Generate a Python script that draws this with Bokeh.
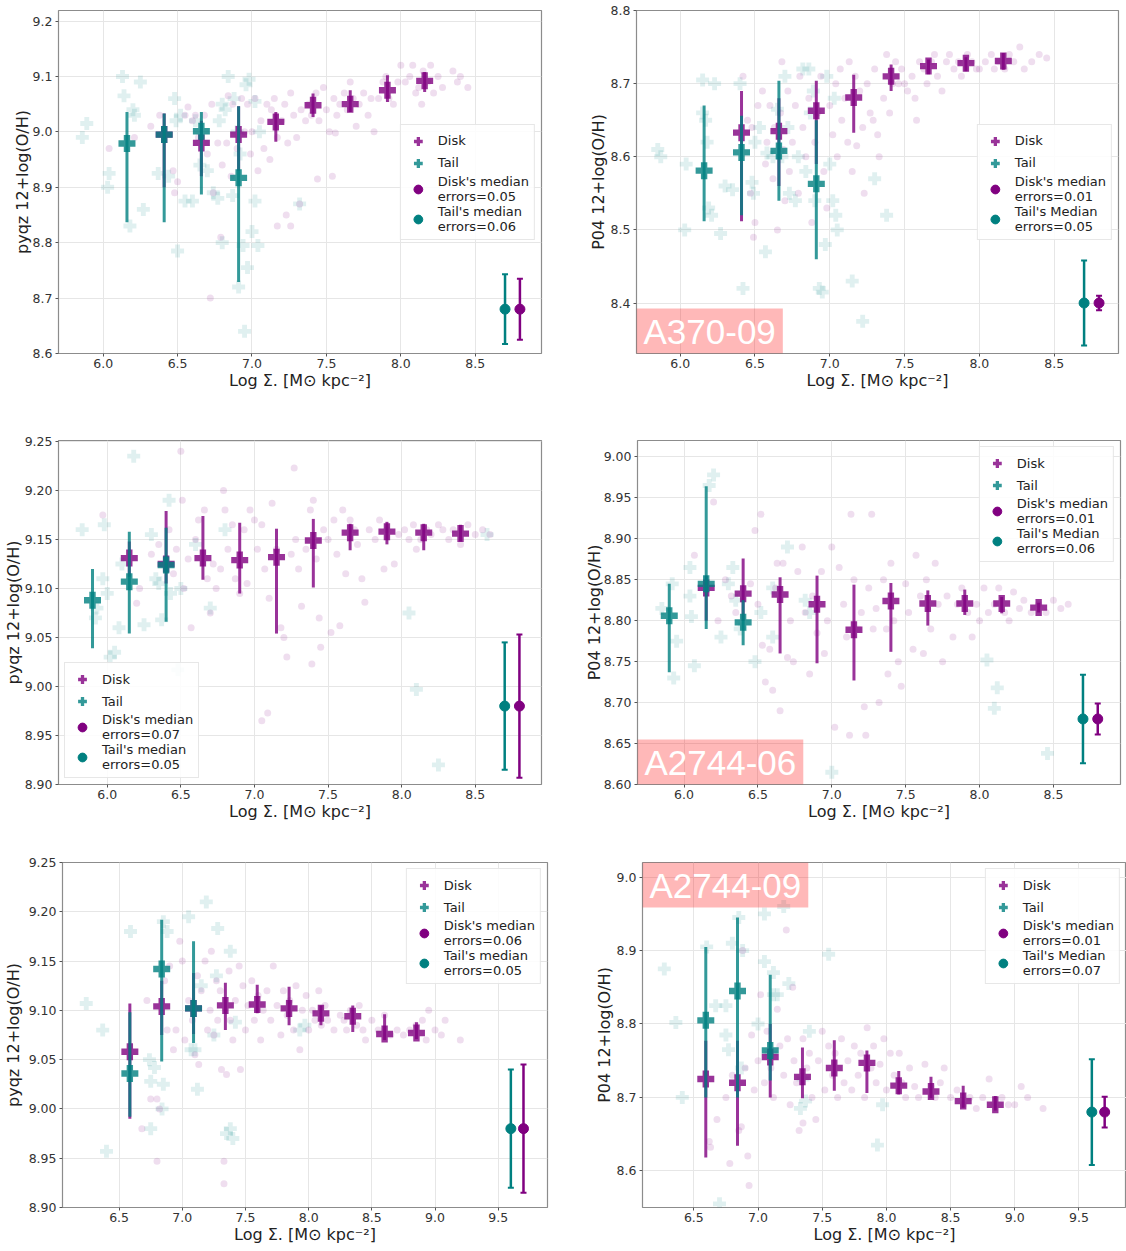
from bokeh.plotting import figure
from bokeh.layouts import column, row
from bokeh.models import Range1d, FixedTicker, Legend, LegendItem, Label, NumeralTickFormatter
from bokeh.embed import file_html
from bokeh.resources import INLINE

FONT = "DejaVu Sans"
LABEL_FONT = "Liberation Sans"
DISK = "#800080"
TAIL = "#008080"

XTICKS_A = [6.0, 6.5, 7.0, 7.5, 8.0, 8.5]
XTICKS_B = [6.5, 7.0, 7.5, 8.0, 8.5, 9.0, 9.5]
YTICKS_1 = [8.6, 8.7, 8.8, 8.9, 9.0, 9.1, 9.2]
YTICKS_2 = [8.4, 8.5, 8.6, 8.7, 8.8]
YTICKS_3 = [8.90, 8.95, 9.00, 9.05, 9.10, 9.15, 9.20, 9.25]
YTICKS_4 = [8.60, 8.65, 8.70, 8.75, 8.80, 8.85, 8.90, 8.95, 9.00]
YTICKS_5 = [8.90, 8.95, 9.00, 9.05, 9.10, 9.15, 9.20, 9.25]
YTICKS_6 = [8.6, 8.7, 8.8, 8.9, 9.0]

XLABEL = "Log Σ. [M⊙ kpc⁻²]"
YLABEL_L = "pyqz 12+log(O/H)"
YLABEL_R = "P04 12+log(O/H)"

# ---------------- Panel 1 (pyqz, A370-09) ----------------
p1_disk_x = [6.41, 6.66, 6.91, 7.16, 7.41, 7.66, 7.91, 8.16]
p1_disk_y = [8.995, 8.980, 8.995, 9.018, 9.048, 9.050, 9.075, 9.092]
p1_disk_lo = [8.900, 8.920, 8.930, 8.982, 9.027, 9.036, 9.054, 9.072]
p1_disk_hi = [9.033, 9.020, 9.046, 9.036, 9.069, 9.075, 9.102, 9.108]
p1_tail_x = [6.16, 6.41, 6.66, 6.91]
p1_tail_y = [8.979, 8.995, 9.001, 8.917]
p1_tail_lo = [8.837, 8.837, 8.887, 8.729]
p1_tail_hi = [9.036, 9.033, 9.036, 9.046]
p1_err_x = [8.70, 8.80]          # tail, disk
p1_err_y = [8.68, 8.68]
p1_err = [0.063, 0.055]
p1_disk_pts = [(6.04, 8.97), (6.21, 8.99), (6.32, 9.01), (6.38, 9.03), (6.47, 8.93), (6.48, 8.89), (6.50, 8.91),
               (6.55, 9.03), (6.57, 9.045), (6.60, 9.02), (6.62, 9.03), (6.64, 8.99), (6.68, 9.03), (6.70, 8.96),
               (6.72, 8.70), (6.73, 9.05), (6.74, 8.89), (6.77, 8.98), (6.79, 8.81), (6.80, 8.94), (6.83, 8.98),
               (6.84, 9.065), (6.86, 8.92), (6.87, 9.05), (6.90, 8.97), (6.93, 9.06), (6.95, 9.00), (6.97, 9.05),
               (6.99, 8.96), (7.00, 9.00), (7.02, 9.06), (7.04, 8.93), (7.06, 9.02), (7.08, 8.97), (7.10, 9.05),
               (7.12, 8.95), (7.13, 9.04), (7.15, 9.06), (7.17, 8.99), (7.17, 8.83), (7.20, 9.02), (7.22, 9.05),
               (7.23, 8.85), (7.24, 8.98), (7.26, 9.07), (7.26, 8.83), (7.28, 9.03), (7.30, 8.99), (7.32, 8.87),
               (7.33, 9.04), (7.36, 9.02), (7.38, 9.05), (7.40, 9.03), (7.43, 9.07), (7.44, 8.915), (7.45, 9.02),
               (7.48, 9.08), (7.50, 9.04), (7.52, 9.00), (7.54, 8.92), (7.55, 9.06), (7.56, 8.998), (7.57, 9.03),
               (7.59, 9.05), (7.62, 9.07), (7.64, 9.04), (7.66, 9.09), (7.68, 9.06), (7.70, 9.01), (7.72, 9.05),
               (7.75, 9.07), (7.78, 9.03), (7.80, 9.06), (7.82, 9.00), (7.85, 9.06), (7.88, 9.09), (7.90, 9.10),
               (7.92, 9.06), (7.95, 9.05), (7.98, 9.09), (8.00, 9.12), (8.03, 9.09), (8.06, 9.10), (8.08, 9.12),
               (8.10, 9.07), (8.12, 9.08), (8.14, 9.05), (8.15, 9.11), (8.18, 9.09), (8.20, 9.12), (8.22, 9.07),
               (8.25, 9.10), (8.28, 9.08), (8.35, 9.11), (8.38, 9.09), (8.40, 9.10), (8.45, 9.08)]
p1_tail_pts = [(5.86, 8.99), (5.89, 9.015), (6.03, 8.90), (6.04, 8.925), (6.13, 9.10), (6.14, 9.065), (6.18, 8.83),
               (6.20, 9.04), (6.21, 9.03), (6.25, 9.09), (6.27, 8.86), (6.37, 8.925), (6.44, 8.92), (6.48, 9.06),
               (6.50, 8.785), (6.49, 9.02), (6.52, 9.03), (6.55, 8.875), (6.60, 8.875), (6.62, 9.02), (6.65, 8.94),
               (6.70, 8.93), (6.74, 8.89), (6.77, 8.88), (6.80, 8.80), (6.78, 9.02), (6.80, 9.05), (6.82, 9.04),
               (6.84, 9.10), (6.87, 8.885), (6.88, 9.06), (6.90, 9.00), (6.91, 8.72), (6.92, 8.96), (6.94, 8.795),
               (6.95, 8.64), (6.96, 9.085), (6.97, 8.755), (6.98, 9.095), (7.00, 8.82), (7.02, 9.055), (7.02, 8.875),
               (7.04, 8.795), (7.05, 9.00), (7.32, 8.87)]

# ---------------- Panel 2 (P04, A370-09) ----------------
p2_disk_x = [6.41, 6.66, 6.91, 7.16, 7.41, 7.66, 7.91, 8.16]
p2_disk_y = [8.633, 8.635, 8.663, 8.681, 8.710, 8.724, 8.728, 8.731]
p2_disk_lo = [8.512, 8.560, 8.590, 8.633, 8.690, 8.713, 8.717, 8.719]
p2_disk_hi = [8.690, 8.680, 8.704, 8.712, 8.726, 8.733, 8.736, 8.742]
p2_tail_x = [6.16, 6.41, 6.66, 6.91]
p2_tail_y = [8.581, 8.606, 8.608, 8.563]
p2_tail_lo = [8.512, 8.520, 8.540, 8.460]
p2_tail_hi = [8.670, 8.656, 8.704, 8.650]
p2_err_x = [8.70, 8.80]
p2_err_y = [8.40, 8.40]
p2_err = [0.058, 0.010]
p2_disk_pts = [(6.42, 8.71), (6.45, 8.65), (6.47, 8.55), (6.48, 8.64), (6.49, 8.49), (6.50, 8.51), (6.52, 8.67),
               (6.55, 8.69), (6.57, 8.59), (6.58, 8.62), (6.60, 8.67), (6.62, 8.57), (6.63, 8.64), (6.65, 8.50),
               (6.67, 8.66), (6.68, 8.73), (6.69, 8.61), (6.70, 8.54), (6.72, 8.69), (6.73, 8.58), (6.75, 8.62),
               (6.77, 8.67), (6.79, 8.55), (6.80, 8.71), (6.82, 8.64), (6.84, 8.60), (6.86, 8.68), (6.88, 8.51),
               (6.90, 8.62), (6.92, 8.66), (6.94, 8.71), (6.96, 8.58), (6.98, 8.53), (7.00, 8.67), (7.02, 8.63),
               (7.04, 8.70), (7.05, 8.60), (7.07, 8.72), (7.08, 8.65), (7.10, 8.68), (7.12, 8.62), (7.13, 8.73),
               (7.15, 8.58), (7.17, 8.71), (7.18, 8.615), (7.20, 8.69), (7.22, 8.64), (7.23, 8.55), (7.25, 8.70),
               (7.27, 8.66), (7.29, 8.65), (7.30, 8.72), (7.32, 8.63), (7.33, 8.60), (7.36, 8.68), (7.38, 8.74),
               (7.40, 8.66), (7.42, 8.70), (7.44, 8.73), (7.46, 8.70), (7.48, 8.72), (7.50, 8.70), (7.52, 8.69),
               (7.55, 8.71), (7.57, 8.68), (7.58, 8.65), (7.60, 8.73), (7.63, 8.72), (7.65, 8.70), (7.68, 8.73),
               (7.70, 8.74), (7.72, 8.71), (7.75, 8.69), (7.78, 8.73), (7.80, 8.74), (7.83, 8.72), (7.86, 8.73),
               (7.88, 8.71), (7.92, 8.74), (7.95, 8.73), (7.98, 8.72), (8.00, 8.72), (8.04, 8.73), (8.08, 8.74),
               (8.10, 8.72), (8.13, 8.73), (8.17, 8.72), (8.20, 8.74), (8.23, 8.73), (8.27, 8.75), (8.30, 8.72),
               (8.35, 8.73), (8.40, 8.74), (8.45, 8.735)]
p2_tail_pts = [(5.85, 8.61), (5.87, 8.60), (6.03, 8.50), (6.04, 8.59), (6.15, 8.705), (6.15, 8.66), (6.17, 8.65),
               (6.18, 8.62), (6.19, 8.53), (6.21, 8.52), (6.23, 8.70), (6.27, 8.495), (6.30, 8.56), (6.35, 8.555),
               (6.40, 8.70), (6.42, 8.42), (6.48, 8.565), (6.49, 8.55), (6.50, 8.62), (6.53, 8.64), (6.57, 8.47),
               (6.58, 8.605), (6.62, 8.60), (6.65, 8.665), (6.68, 8.60), (6.70, 8.71), (6.72, 8.64), (6.73, 8.55),
               (6.77, 8.54), (6.79, 8.60), (6.82, 8.72), (6.84, 8.58), (6.86, 8.72), (6.87, 8.66), (6.89, 8.69),
               (6.90, 8.54), (6.93, 8.42), (6.95, 8.415), (6.97, 8.48), (6.98, 8.71), (7.00, 8.59), (7.02, 8.54),
               (7.04, 8.52), (7.05, 8.50), (7.03, 8.68), (7.15, 8.43), (7.22, 8.375), (7.30, 8.57), (7.38, 8.52)]

# ---------------- Panel 3 (pyqz, A2744-06) ----------------
p3_disk_x = [6.15, 6.40, 6.65, 6.90, 7.15, 7.40, 7.65, 7.90, 8.15, 8.40]
p3_disk_y = [9.131, 9.125, 9.131, 9.129, 9.132, 9.149, 9.157, 9.158, 9.157, 9.156]
p3_disk_lo = [9.112, 9.105, 9.109, 9.095, 9.054, 9.101, 9.139, 9.145, 9.139, 9.148]
p3_disk_hi = [9.148, 9.179, 9.174, 9.167, 9.161, 9.171, 9.166, 9.168, 9.166, 9.165]
p3_tail_x = [5.90, 6.15, 6.40]
p3_tail_y = [9.088, 9.107, 9.124]
p3_tail_lo = [9.039, 9.054, 9.066]
p3_tail_hi = [9.120, 9.158, 9.162]
p3_err_x = [8.70, 8.80]
p3_err_y = [8.98, 8.98]
p3_err = [0.065, 0.073]
p3_disk_pts = [(5.97, 9.175), (6.20, 9.085), (6.22, 9.10), (6.30, 9.135), (6.35, 9.145), (6.42, 9.16), (6.45, 9.115),
               (6.47, 9.14), (6.50, 9.24), (6.51, 9.19), (6.52, 9.10), (6.55, 9.13), (6.57, 9.06), (6.60, 9.15),
               (6.62, 9.17), (6.66, 9.18), (6.68, 9.11), (6.70, 9.075), (6.72, 9.125), (6.74, 9.10), (6.77, 9.12),
               (6.79, 9.20), (6.80, 9.18), (6.82, 9.14), (6.85, 9.165), (6.87, 9.11), (6.90, 9.095), (6.93, 9.16),
               (6.95, 9.105), (6.97, 9.18), (7.00, 9.17), (7.02, 9.14), (7.05, 9.165), (7.07, 9.12), (7.10, 9.09),
               (7.12, 9.187), (7.15, 9.14), (7.18, 9.06), (7.20, 9.05), (7.22, 9.03), (7.05, 8.965), (7.09, 8.973),
               (7.25, 9.135), (7.27, 9.223), (7.28, 9.15), (7.30, 9.12), (7.32, 9.082), (7.35, 9.14), (7.38, 9.18),
               (7.39, 9.023), (7.40, 9.19), (7.42, 9.13), (7.44, 9.07), (7.45, 9.04), (7.47, 9.16), (7.50, 9.15),
               (7.52, 9.055), (7.54, 9.17), (7.56, 9.135), (7.58, 9.062), (7.60, 9.18), (7.62, 9.115), (7.65, 9.17),
               (7.68, 9.16), (7.70, 9.145), (7.73, 9.11), (7.75, 9.086), (7.78, 9.16), (7.82, 9.15), (7.85, 9.17),
               (7.88, 9.12), (7.90, 9.16), (7.95, 9.125), (7.98, 9.155), (8.02, 9.16), (8.05, 9.15), (8.08, 9.165),
               (8.10, 9.14), (8.13, 9.15), (8.17, 9.16), (8.20, 9.155), (8.25, 9.165), (8.28, 9.16), (8.32, 9.15),
               (8.35, 9.16), (8.40, 9.145), (8.45, 9.165), (8.50, 9.155), (8.55, 9.16), (8.60, 9.155)]
p3_tail_pts = [(5.83, 9.16), (5.92, 9.07), (5.93, 9.08), (5.97, 9.11), (5.98, 9.165), (6.00, 9.095), (6.02, 9.03),
               (6.05, 9.035), (6.08, 9.06), (6.10, 9.125), (6.18, 9.235), (6.25, 9.063), (6.30, 9.155), (6.33, 9.11),
               (6.35, 9.105), (6.37, 9.068), (6.42, 9.19), (6.43, 9.095), (6.48, 9.017), (6.50, 9.10), (6.60, 9.145),
               (6.70, 9.08), (6.80, 9.16), (8.05, 9.075), (8.10, 8.997), (8.25, 8.92), (8.58, 9.155)]

# ---------------- Panel 4 (P04, A2744-06) ----------------
p4_disk_x = [6.15, 6.40, 6.65, 6.90, 7.15, 7.40, 7.65, 7.90, 8.15, 8.40]
p4_disk_y = [8.840, 8.833, 8.832, 8.820, 8.789, 8.824, 8.821, 8.821, 8.821, 8.816]
p4_disk_lo = [8.800, 8.800, 8.760, 8.748, 8.727, 8.762, 8.794, 8.807, 8.809, 8.810]
p4_disk_hi = [8.855, 8.876, 8.853, 8.855, 8.844, 8.846, 8.837, 8.838, 8.829, 8.822]
p4_tail_x = [5.90, 6.15, 6.40]
p4_tail_y = [8.806, 8.845, 8.798]
p4_tail_lo = [8.737, 8.790, 8.770]
p4_tail_hi = [8.845, 8.964, 8.825]
p4_err_x = [8.70, 8.80]
p4_err_y = [8.68, 8.68]
p4_err = [0.054, 0.019]
p4_disk_pts = [(6.07, 8.88), (6.20, 8.945), (6.23, 8.80), (6.28, 8.85), (6.32, 8.83), (6.35, 8.81), (6.45, 8.845),
               (6.48, 8.91), (6.50, 8.82), (6.52, 8.93), (6.53, 8.77), (6.55, 8.725), (6.58, 8.765), (6.60, 8.715),
               (6.62, 8.84), (6.63, 8.87), (6.65, 8.69), (6.67, 8.87), (6.70, 8.755), (6.72, 8.80), (6.74, 8.75),
               (6.77, 8.86), (6.80, 8.89), (6.82, 8.81), (6.85, 8.735), (6.87, 8.83), (6.90, 8.785), (6.93, 8.86),
               (6.95, 8.76), (6.97, 8.80), (7.00, 8.89), (7.02, 8.67), (7.05, 8.865), (7.08, 8.82), (7.10, 8.78),
               (7.12, 8.66), (7.13, 8.93), (7.15, 8.85), (7.18, 8.79), (7.20, 8.81), (7.22, 8.695), (7.23, 8.66),
               (7.25, 8.84), (7.27, 8.93), (7.28, 8.79), (7.30, 8.815), (7.32, 8.70), (7.35, 8.85), (7.37, 8.79),
               (7.38, 8.735), (7.40, 8.87), (7.42, 8.80), (7.45, 8.75), (7.47, 8.72), (7.50, 8.845), (7.52, 8.81),
               (7.55, 8.765), (7.57, 8.88), (7.60, 8.83), (7.62, 8.76), (7.64, 8.85), (7.67, 8.79), (7.70, 8.87),
               (7.72, 8.82), (7.75, 8.75), (7.78, 8.83), (7.82, 8.78), (7.85, 8.82), (7.88, 8.84), (7.92, 8.81),
               (7.95, 8.78), (7.98, 8.82), (8.00, 8.80), (8.03, 8.84), (8.06, 8.81), (8.10, 8.82), (8.13, 8.84),
               (8.17, 8.81), (8.20, 8.80), (8.23, 8.835), (8.27, 8.815), (8.30, 8.825), (8.35, 8.81), (8.40, 8.82),
               (8.45, 8.81), (8.50, 8.825), (8.55, 8.815), (8.60, 8.82)]
p4_tail_pts = [(5.85, 8.815), (5.92, 8.845), (5.95, 8.775), (5.93, 8.73), (6.04, 8.865), (6.05, 8.805), (6.04, 8.83),
               (6.07, 8.745), (6.17, 8.965), (6.20, 8.978), (6.25, 8.78), (6.30, 8.845), (6.33, 8.865), (6.35, 8.825),
               (6.38, 8.79), (6.48, 8.75), (6.52, 8.81), (6.60, 8.78), (6.60, 8.84), (6.70, 8.89), (6.82, 8.825),
               (6.85, 8.81), (7.00, 8.615), (8.05, 8.752), (8.12, 8.718), (8.10, 8.693), (8.46, 8.638)]

# ---------------- Panel 5 (pyqz, A2744-09) ----------------
p5_disk_x = [6.585, 6.837, 7.089, 7.341, 7.593, 7.845, 8.097, 8.349, 8.601, 8.853]
p5_disk_y = [9.058, 9.104, 9.102, 9.105, 9.106, 9.102, 9.097, 9.094, 9.076, 9.077]
p5_disk_lo = [8.990, 9.075, 9.076, 9.080, 9.097, 9.085, 9.085, 9.078, 9.070, 9.071]
p5_disk_hi = [9.107, 9.130, 9.138, 9.128, 9.126, 9.124, 9.105, 9.105, 9.096, 9.088]
p5_tail_x = [6.585, 6.837, 7.089]
p5_tail_y = [9.036, 9.142, 9.102]
p5_tail_lo = [8.992, 9.048, 9.067]
p5_tail_hi = [9.098, 9.192, 9.170]
p5_err_x = [9.60, 9.70]
p5_err_y = [8.98, 8.98]
p5_err = [0.060, 0.065]
p5_disk_pts = [(6.68, 8.98), (6.72, 9.11), (6.75, 9.01), (6.80, 8.947), (6.80, 9.01), (6.82, 9.00), (6.86, 9.13),
               (6.88, 9.08), (6.90, 9.145), (6.93, 9.06), (6.95, 9.08), (6.98, 9.17), (7.00, 9.15), (7.02, 9.07),
               (7.05, 9.11), (7.08, 9.09), (7.10, 9.055), (7.12, 9.135), (7.13, 9.045), (7.15, 9.12), (7.18, 9.15),
               (7.20, 9.08), (7.22, 9.10), (7.23, 9.16), (7.25, 9.075), (7.27, 9.13), (7.28, 9.09), (7.30, 9.12),
               (7.31, 9.04), (7.33, 8.947), (7.33, 8.924), (7.35, 9.035), (7.37, 9.14), (7.38, 9.09), (7.40, 9.07),
               (7.42, 9.11), (7.45, 9.145), (7.46, 9.04), (7.48, 9.125), (7.50, 9.08), (7.52, 9.105), (7.55, 9.13),
               (7.57, 9.09), (7.60, 9.115), (7.62, 9.07), (7.64, 9.10), (7.67, 9.12), (7.70, 9.09), (7.72, 9.145),
               (7.75, 9.105), (7.78, 9.075), (7.80, 9.12), (7.83, 9.095), (7.85, 9.11), (7.88, 9.08), (7.90, 9.125),
               (7.93, 9.06), (7.95, 9.10), (7.98, 9.115), (8.00, 9.08), (8.03, 9.10), (8.05, 9.09), (8.08, 9.12),
               (8.10, 9.085), (8.13, 9.105), (8.15, 9.09), (8.20, 9.08), (8.25, 9.095), (8.28, 9.09), (8.30, 9.08),
               (8.33, 9.10), (8.38, 9.085), (8.40, 9.105), (8.43, 9.08), (8.45, 9.07), (8.50, 9.09), (8.55, 9.08),
               (8.60, 9.095), (8.65, 9.075), (8.70, 9.08), (8.75, 9.075), (8.80, 9.08), (8.85, 9.085), (8.90, 9.09),
               (8.93, 9.07), (8.95, 9.10), (9.00, 9.08), (9.05, 9.075), (9.08, 9.09), (9.20, 9.07)]
p5_tail_pts = [(6.24, 9.107), (6.37, 9.08), (6.40, 8.957), (6.59, 9.18), (6.74, 9.05), (6.75, 9.028), (6.75, 8.98),
               (6.78, 9.042), (6.84, 9.00), (6.85, 9.025), (6.85, 9.19), (6.88, 9.18), (7.05, 9.195), (7.07, 9.06),
               (7.10, 9.06), (7.12, 9.02), (7.15, 9.125), (7.19, 9.21), (7.25, 9.075), (7.27, 9.135), (7.28, 9.183),
               (7.35, 8.975), (7.38, 8.98), (7.38, 9.16), (7.40, 8.97), (7.42, 9.088), (7.93, 9.08), (7.97, 9.085)]

# ---------------- Panel 6 (P04, A2744-09) ----------------
p6_disk_x = [6.593, 6.840, 7.095, 7.346, 7.594, 7.848, 8.096, 8.347, 8.598, 8.848]
p6_disk_y = [8.725, 8.720, 8.755, 8.728, 8.740, 8.747, 8.716, 8.708, 8.695, 8.690]
p6_disk_lo = [8.618, 8.634, 8.700, 8.699, 8.709, 8.706, 8.704, 8.699, 8.686, 8.682]
p6_disk_hi = [8.777, 8.777, 8.800, 8.768, 8.778, 8.764, 8.736, 8.728, 8.716, 8.702]
p6_tail_x = [6.593, 6.840, 7.095]
p6_tail_y = [8.805, 8.845, 8.764]
p6_tail_lo = [8.700, 8.700, 8.723]
p6_tail_hi = [8.905, 8.945, 8.867]
p6_err_x = [9.60, 9.70]
p6_err_y = [8.68, 8.68]
p6_err = [0.072, 0.021]
p6_disk_pts = [(6.62, 8.64), (6.63, 8.632), (6.68, 8.67), (6.75, 8.70), (6.78, 8.61), (6.80, 8.73), (6.85, 8.655),
               (6.87, 8.66), (6.88, 8.90), (6.90, 8.74), (6.92, 8.62), (6.93, 8.58), (6.95, 8.785), (6.97, 8.71),
               (7.00, 8.75), (7.02, 8.84), (7.05, 8.72), (7.07, 8.79), (7.10, 8.74), (7.12, 8.70), (7.15, 8.82),
               (7.17, 8.77), (7.20, 8.73), (7.22, 8.928), (7.23, 8.78), (7.25, 8.69), (7.27, 8.85), (7.28, 8.75),
               (7.30, 8.72), (7.32, 8.655), (7.35, 8.665), (7.35, 8.78), (7.38, 8.74), (7.40, 8.76), (7.42, 8.70),
               (7.45, 8.67), (7.47, 8.75), (7.50, 8.79), (7.52, 8.71), (7.55, 8.77), (7.58, 8.73), (7.60, 8.76),
               (7.62, 8.70), (7.65, 8.78), (7.67, 8.72), (7.70, 8.75), (7.73, 8.71), (7.75, 8.77), (7.78, 8.73),
               (7.80, 8.76), (7.83, 8.70), (7.85, 8.795), (7.88, 8.74), (7.90, 8.77), (7.92, 8.72), (7.95, 8.745),
               (7.98, 8.78), (8.00, 8.71), (8.03, 8.76), (8.06, 8.73), (8.10, 8.76), (8.12, 8.72), (8.15, 8.70),
               (8.18, 8.74), (8.22, 8.715), (8.25, 8.70), (8.30, 8.745), (8.35, 8.715), (8.38, 8.70), (8.42, 8.72),
               (8.45, 8.74), (8.50, 8.70), (8.55, 8.71), (8.60, 8.69), (8.65, 8.70), (8.70, 8.685), (8.75, 8.70),
               (8.80, 8.725), (8.85, 8.69), (8.90, 8.70), (8.95, 8.69), (9.00, 8.69), (9.05, 8.715), (9.10, 8.70),
               (9.22, 8.685)]
p6_tail_pts = [(6.27, 8.875), (6.36, 8.802), (6.41, 8.70), (6.60, 8.905), (6.67, 8.825), (6.70, 8.555), (6.75, 8.825),
               (6.75, 8.785), (6.77, 8.765), (6.80, 8.91), (6.85, 8.945), (6.87, 8.74), (6.88, 8.90), (7.05, 8.95),
               (7.00, 8.80), (7.05, 8.885), (7.10, 8.76), (7.12, 8.84), (7.12, 8.87), (7.20, 8.96), (7.15, 8.84),
               (7.24, 8.855), (7.35, 8.725), (7.40, 8.79), (7.33, 8.685), (7.37, 8.695), (7.55, 8.895), (7.93, 8.635),
               (7.97, 8.69)]


def make_panel(xr, yr, xticks, yticks, yfmt, ylabel, borders, ystand,
               disk_pts, tail_pts, dx, dy, dlo, dhi, tx, ty, tlo, thi,
               ex, ey, ee, leg_labels, leg_loc, cluster=None, cluster_top=False):
    bl, br, bt, bb = borders
    p = figure(width=563, height=417, x_range=Range1d(*xr), y_range=Range1d(*yr),
               output_backend="svg", toolbar_location=None,
               min_border_left=bl, min_border_right=br, min_border_top=bt, min_border_bottom=bb,
               background_fill_color="white", border_fill_color="white")
    p.xaxis.ticker = FixedTicker(ticks=xticks)
    p.yaxis.ticker = FixedTicker(ticks=yticks)
    p.xaxis.formatter = NumeralTickFormatter(format="0.0")
    p.yaxis.formatter = NumeralTickFormatter(format=yfmt)
    p.xaxis.axis_label = XLABEL
    p.yaxis.axis_label = ylabel
    for ax in (p.xaxis[0], p.yaxis[0]):
        ax.major_label_text_font = FONT
        ax.major_label_text_font_size = "12.5px"
        ax.major_label_text_color = "#333333"
        ax.axis_label_text_font = FONT
        ax.axis_label_text_font_size = "16px"
        ax.axis_label_text_font_style = "normal"
        ax.axis_label_text_color = "#222222"
        ax.axis_line_color = None
        ax.major_tick_line_color = "#555555"
        ax.major_tick_out = 3
        ax.major_tick_in = 0
        ax.minor_tick_line_color = None
    p.xaxis.major_label_standoff = 2
    p.xaxis.axis_label_standoff = 0
    p.yaxis.major_label_standoff = 3
    p.yaxis.axis_label_standoff = ystand
    p.grid.grid_line_color = "#e6e6e6"
    p.outline_line_color = "#8c8c8c"
    p.outline_line_width = 1.2

    # faint individual spaxels
    p.scatter([q[0] for q in tail_pts], [q[1] for q in tail_pts], marker="plus", size=13,
              fill_color=TAIL, fill_alpha=0.12, line_color=None)
    p.scatter([q[0] for q in disk_pts], [q[1] for q in disk_pts], marker="circle", size=7,
              fill_color=DISK, fill_alpha=0.13, line_color=None)

    # binned medians (disk then tail)
    p.segment(x0=dx, y0=dlo, x1=dx, y1=dhi, line_color=DISK, line_alpha=0.8, line_width=3)
    r_d = p.scatter(dx, dy, marker="plus", size=17, fill_color=DISK, fill_alpha=0.8, line_color=None)
    p.segment(x0=tx, y0=tlo, x1=tx, y1=thi, line_color=TAIL, line_alpha=0.8, line_width=3)
    r_t = p.scatter(tx, ty, marker="plus", size=17, fill_color=TAIL, fill_alpha=0.8, line_color=None)

    # median error markers
    e_lo = [y - e for y, e in zip(ey, ee)]
    e_hi = [y + e for y, e in zip(ey, ee)]
    cols = [TAIL, DISK]
    rs = []
    for i in range(2):
        p.segment(x0=[ex[i]], y0=[e_lo[i]], x1=[ex[i]], y1=[e_hi[i]], line_color=cols[i], line_width=2.5)
        p.scatter([ex[i], ex[i]], [e_lo[i], e_hi[i]], marker="dash", size=6, line_color=cols[i], line_width=2)
        rs.append(p.scatter([ex[i]], [ey[i]], marker="circle", size=10, fill_color=cols[i], line_color=cols[i]))

    legend = Legend(items=[LegendItem(label=leg_labels[0], renderers=[r_d]),
                           LegendItem(label=leg_labels[1], renderers=[r_t]),
                           LegendItem(label=leg_labels[2], renderers=[rs[1]]),
                           LegendItem(label=leg_labels[3], renderers=[rs[0]])],
                    location=leg_loc)
    legend.label_text_font = FONT
    legend.label_text_font_size = "13px"
    legend.label_text_color = "#222222"
    legend.label_text_line_height = 1.1
    legend.border_line_color = "#d0d0d0"
    legend.border_line_width = 1
    legend.background_fill_alpha = 0.85
    legend.glyph_width = 24
    legend.glyph_height = 22
    legend.label_height = 14
    legend.label_standoff = 8
    legend.spacing = -5
    legend.padding = 5
    legend.margin = 6
    p.add_layout(legend)

    if cluster:
        lab = Label(x=xr[0], y=yr[1] if cluster_top else yr[0], text=cluster,
                    text_font=LABEL_FONT, text_font_size="35px", text_color="white",
                    text_baseline="top" if cluster_top else "bottom", text_align="left",
                    background_fill_color="red", background_fill_alpha=0.28, padding=(7, 7, 3, 3))
        p.add_layout(lab)
    return p


p1 = make_panel((5.70, 8.945), (8.60, 9.219), XTICKS_A, YTICKS_1, "0.0", YLABEL_L, (58, 22, 10, 64), -2,
                p1_disk_pts, p1_tail_pts, p1_disk_x, p1_disk_y, p1_disk_lo, p1_disk_hi,
                p1_tail_x, p1_tail_y, p1_tail_lo, p1_tail_hi, p1_err_x, p1_err_y, p1_err,
                ["Disk", "Tail", "Disk's median\nerrors=0.05", "Tail's median\nerrors=0.06"], "center_right")
p2 = make_panel((5.708, 8.93), (8.331, 8.80), XTICKS_A, YTICKS_2, "0.0", YLABEL_R, (73, 8, 10, 64), 0,
                p2_disk_pts, p2_tail_pts, p2_disk_x, p2_disk_y, p2_disk_lo, p2_disk_hi,
                p2_tail_x, p2_tail_y, p2_tail_lo, p2_tail_hi, p2_err_x, p2_err_y, p2_err,
                ["Disk", "Tail", "Disk's median\nerrors=0.01", "Tail's Median\nerrors=0.05"], "center_right",
                cluster="A370-09")
p3 = make_panel((5.669, 8.95), (8.90, 9.251), XTICKS_A, YTICKS_3, "0.00", YLABEL_L, (57, 22, 21, 50), -1,
                p3_disk_pts, p3_tail_pts, p3_disk_x, p3_disk_y, p3_disk_lo, p3_disk_hi,
                p3_tail_x, p3_tail_y, p3_tail_lo, p3_tail_hi, p3_err_x, p3_err_y, p3_err,
                ["Disk", "Tail", "Disk's median\nerrors=0.07", "Tail's median\nerrors=0.05"], "bottom_left")
p4 = make_panel((5.685, 8.954), (8.60, 9.02), XTICKS_A, YTICKS_4, "0.00", YLABEL_R, (74, 6, 23, 50), -3,
                p4_disk_pts, p4_tail_pts, p4_disk_x, p4_disk_y, p4_disk_lo, p4_disk_hi,
                p4_tail_x, p4_tail_y, p4_tail_lo, p4_tail_hi, p4_err_x, p4_err_y, p4_err,
                ["Disk", "Tail", "Disk's median\nerrors=0.01", "Tail's Median\nerrors=0.06"], "top_right",
                cluster="A2744-06")
p5 = make_panel((6.052, 9.89), (8.90, 9.25), XTICKS_B, YTICKS_5, "0.00", YLABEL_L, (62, 16, 28, 44), 3,
                p5_disk_pts, p5_tail_pts, p5_disk_x, p5_disk_y, p5_disk_lo, p5_disk_hi,
                p5_tail_x, p5_tail_y, p5_tail_lo, p5_tail_hi, p5_err_x, p5_err_y, p5_err,
                ["Disk", "Tail", "Disk's median\nerrors=0.06", "Tail's median\nerrors=0.05"], "top_right")
p6 = make_panel((6.10, 9.87), (8.55, 9.02), XTICKS_B, YTICKS_6, "0.0", YLABEL_R, (79, 0, 28, 44), 0,
                p6_disk_pts, p6_tail_pts, p6_disk_x, p6_disk_y, p6_disk_lo, p6_disk_hi,
                p6_tail_x, p6_tail_y, p6_tail_lo, p6_tail_hi, p6_err_x, p6_err_y, p6_err,
                ["Disk", "Tail", "Disk's median\nerrors=0.01", "Tail's Median\nerrors=0.07"], "top_right",
                cluster="A2744-09", cluster_top=True)

layout = column(row(p1, p2, spacing=0), row(p3, p4, spacing=0), row(p5, p6, spacing=0), spacing=0)
open("out.html", "w").write(file_html(layout, INLINE))
